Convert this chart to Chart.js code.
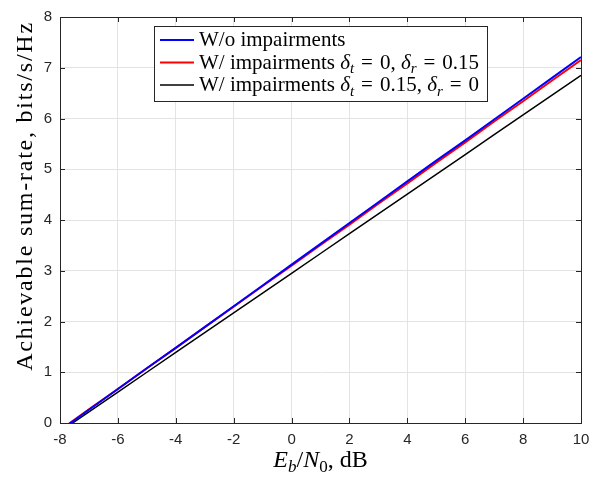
<!DOCTYPE html>
<html>
<head>
<meta charset="utf-8">
<script src="https://cdn.jsdelivr.net/npm/chart.js@4.4.1/dist/chart.umd.min.js"></script>
<style>
  html, body { margin: 0; padding: 0; background: #fff; }
  #wrap { width: 602px; height: 479px; }
</style>
</head>
<body>
<div id="wrap"><canvas id="myChart" width="602" height="479"></canvas></div>
<script>
// Eb/N0 in dB
const ebn0 = [-8, -7, -6, -5, -4, -3, -2, -1, 0, 1, 2, 3, 4, 5, 6, 7, 8, 9, 10];
// sum-rate, bits/s/Hz
const noImpair = [-0.15, 0.26, 0.67, 1.08, 1.48, 1.89, 2.30, 2.71, 3.12, 3.53, 3.94, 4.35, 4.76, 5.17, 5.57, 5.98, 6.39, 6.80, 7.21];
const impairRx = [-0.14, 0.27, 0.67, 1.08, 1.48, 1.89, 2.29, 2.70, 3.10, 3.51, 3.91, 4.32, 4.72, 5.13, 5.53, 5.94, 6.34, 6.75, 7.15];
const impairTx = [-0.17, 0.22, 0.61, 1.00, 1.39, 1.78, 2.17, 2.56, 2.95, 3.34, 3.73, 4.12, 4.51, 4.90, 5.29, 5.68, 6.07, 6.46, 6.85];

const serif = "'Liberation Serif', 'DejaVu Serif', serif";
const sans = "'Liberation Sans', Arial, sans-serif";

// legend rows as text runs (it = italic, sub = subscript)
const eq = "\u200A=\u200A";
const legendRows = [
  { color: "#0000ff", width: 2, runs: [{ t: "W/o impairments" }] },
  { color: "#ff0000", width: 2, runs: [{ t: "W/ impairments " }, { t: "δ", it: true }, { t: "t", it: true, sub: true },
    { t: " " + eq + " 0, " }, { t: "δ", it: true }, { t: "r", it: true, sub: true }, { t: " " + eq + " 0.15" }] },
  { color: "#000000", width: 1.5, runs: [{ t: "W/ impairments " }, { t: "δ", it: true }, { t: "t", it: true, sub: true },
    { t: " " + eq + " 0.15, " }, { t: "δ", it: true }, { t: "r", it: true, sub: true }, { t: " " + eq + " 0" }] }
];
const xTitleRuns = [{ t: "E", it: true }, { t: "b", it: true, sub: true }, { t: "/" },
  { t: "N", it: true }, { t: "0", sub: true }, { t: ", dB" }];
const yTitle = "Achievable sum-rate, bits/s/Hz";

function runFont(r, size) {
  const s = r.sub ? Math.round(size * 0.7) : size;
  return (r.it ? "italic " : "") + s + "px " + serif;
}
function runsWidth(ctx, runs, size) {
  let w = 0;
  runs.forEach(r => { ctx.font = runFont(r, size); w += ctx.measureText(r.t).width; });
  return w;
}
function drawRuns(ctx, runs, x, y, size) {
  ctx.textAlign = "left";
  ctx.textBaseline = "alphabetic";
  runs.forEach(r => {
    ctx.font = runFont(r, size);
    ctx.fillText(r.t, x, r.sub ? y + size * 0.22 : y);
    x += ctx.measureText(r.t).width;
  });
}

const matlabFrame = {
  id: "matlabFrame",
  afterDraw(chart) {
    const ctx = chart.ctx;
    const a = chart.chartArea;
    const xs = chart.scales.x, ys = chart.scales.y;
    ctx.save();
    // box
    ctx.strokeStyle = "#262626";
    ctx.lineWidth = 1;
    ctx.strokeRect(Math.round(a.left) + 0.5, Math.round(a.top) + 0.5,
      Math.round(a.right - a.left), Math.round(a.bottom - a.top));
    // inward ticks
    ctx.beginPath();
    xs.ticks.forEach(t => {
      const px = Math.round(xs.getPixelForValue(t.value)) + 0.5;
      ctx.moveTo(px, a.bottom); ctx.lineTo(px, a.bottom - 5);
      ctx.moveTo(px, a.top); ctx.lineTo(px, a.top + 5);
    });
    ys.ticks.forEach(t => {
      const py = Math.round(ys.getPixelForValue(t.value)) + 0.5;
      ctx.moveTo(a.left, py); ctx.lineTo(a.left + 5, py);
      ctx.moveTo(a.right, py); ctx.lineTo(a.right - 5, py);
    });
    ctx.stroke();

    // legend
    const fs = 21;
    const lx = 154, ly = 26, lw = 333, lh = 75;
    ctx.fillStyle = "#fff";
    ctx.fillRect(lx, ly, lw, lh);
    ctx.strokeStyle = "#262626";
    ctx.strokeRect(lx + 0.5, ly + 0.5, lw, lh);
    legendRows.forEach((row, i) => {
      const cy = 40 + i * 22.5;
      ctx.strokeStyle = row.color;
      ctx.lineWidth = row.width;
      ctx.beginPath();
      ctx.moveTo(160, cy); ctx.lineTo(194, cy);
      ctx.stroke();
      ctx.fillStyle = "#000";
      drawRuns(ctx, row.runs, 199, cy + 6, fs);
    });

    // x axis title
    const xfs = 24;
    const tw = runsWidth(ctx, xTitleRuns, xfs);
    ctx.fillStyle = "#000";
    drawRuns(ctx, xTitleRuns, (a.left + a.right) / 2 - tw / 2, 467, xfs);

    // y axis title, rotated
    ctx.save();
    ctx.translate(32, 196);
    ctx.rotate(-Math.PI / 2);
    ctx.font = "24px " + serif;
    const natural = ctx.measureText(yTitle).width;
    if ("letterSpacing" in ctx && natural < 348) {
      ctx.letterSpacing = ((348 - natural) / (yTitle.length - 1)).toFixed(2) + "px";
    }
    ctx.textAlign = "center";
    ctx.textBaseline = "alphabetic";
    ctx.fillText(yTitle, 0, 0);
    ctx.restore();
    ctx.restore();
  }
};

const ctx = document.getElementById("myChart").getContext("2d");
const toPts = arr => arr.map((v, i) => ({ x: ebn0[i], y: v }));

new Chart(ctx, {
  type: "line",
  data: {
    datasets: [
      { label: "W/o impairments", data: toPts(noImpair), borderColor: "#0000ff", borderWidth: 2, pointRadius: 0, tension: 0 },
      { label: "W/ impairments δt = 0, δr = 0.15", data: toPts(impairRx), borderColor: "#ff0000", borderWidth: 2, pointRadius: 0, tension: 0 },
      { label: "W/ impairments δt = 0.15, δr = 0", data: toPts(impairTx), borderColor: "#000000", borderWidth: 1.5, pointRadius: 0, tension: 0 }
    ]
  },
  options: {
    responsive: false,
    animation: false,
    layout: { padding: { left: 0, top: 13, right: 21, bottom: 0 } },
    plugins: { legend: { display: false }, tooltip: { enabled: false } },
    scales: {
      x: {
        type: "linear",
        min: -8, max: 10,
        ticks: { stepSize: 2, color: "#262626", font: { family: sans, size: 15 }, padding: 8 },
        grid: { color: "#e3e3e3", drawTicks: false },
        border: { display: false },
        afterFit: s => { s.height = 56; }
      },
      y: {
        min: 0, max: 8,
        ticks: { stepSize: 1, color: "#262626", font: { family: sans, size: 15 }, padding: 8 },
        grid: { color: "#e3e3e3", drawTicks: false },
        border: { display: false },
        afterFit: s => { s.width = 60; }
      }
    }
  },
  plugins: [matlabFrame]
});
</script>
</body>
</html>
